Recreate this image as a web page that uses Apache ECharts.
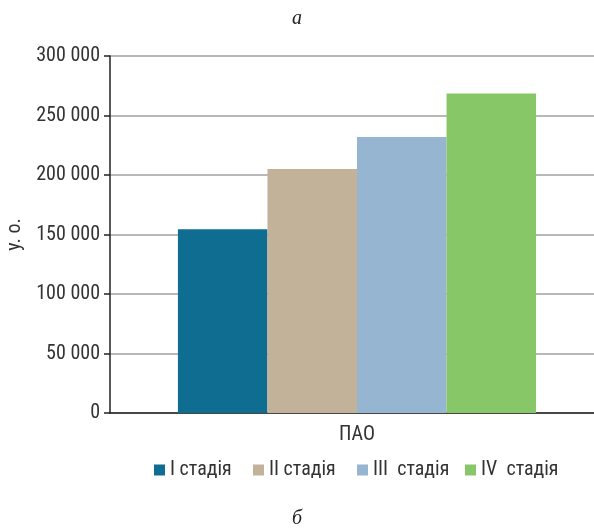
<!DOCTYPE html>
<html><head><meta charset="utf-8">
<script src="https://cdn.jsdelivr.net/npm/echarts@6/dist/echarts.min.js"></script>
<style>html,body{margin:0;padding:0;background:#fff}#c{width:594px;height:529px}</style>
</head><body><div id="c"></div>
<script>
const categories = ['ПАО'];
const seriesNames = ['I стадія', 'II стадія', 'III  стадія', 'IV  стадія'];
const seriesValues = [[154500], [205000], [232000], [268500]];
const colors = ['#0f6d92', '#c3b29a', '#95b5d0', '#88c767'];
const yTicks = [0, 50000, 100000, 150000, 200000, 250000, 300000];

const FONT = '"Liberation Sans Narrow", "Roboto Condensed", "Arial Narrow", sans-serif';
const legendLefts = [154, 253, 357, 465];
const chart = echarts.init(document.getElementById('c'));
chart.setOption({
  animation: false,
  color: colors,
  title: [
    {text: 'а', left: 'center', top: 4, textStyle: {fontFamily: 'Liberation Serif', fontStyle: 'italic', fontWeight: 'normal', fontSize: 20, color: '#222'}},
    {text: 'б', left: 'center', top: 504, textStyle: {fontFamily: 'Liberation Serif', fontStyle: 'italic', fontWeight: 'normal', fontSize: 20, color: '#222'}}
  ],
  legend: seriesNames.map((n, i) => ({
    top: 460, left: legendLefts[i], padding: 0,
    itemWidth: 11, itemHeight: 11,
    icon: 'rect',
    textStyle: {fontFamily: FONT, fontSize: 20, color: '#333'},
    data: [n]
  })),
  grid: {left: 110, width: 494, top: 56, bottom: 116, outerBoundsMode: 'none'},
  xAxis: {
    type: 'category', data: categories,
    axisLine: {lineStyle: {color: '#222', width: 1.5}},
    axisTick: {show: false},
    axisLabel: {fontFamily: FONT, fontSize: 20, color: '#333', margin: 12}
  },
  yAxis: {
    type: 'value', min: 0, max: 300000, interval: 50000,
    name: 'у. о.', nameLocation: 'middle', nameGap: 84, nameRotate: 90,
    nameTextStyle: {fontFamily: FONT, fontSize: 20, color: '#333'},
    axisLine: {show: true, lineStyle: {color: '#222', width: 1.5}},
    axisTick: {show: true, length: 6, lineStyle: {color: '#222', width: 1.5}},
    axisLabel: {fontFamily: FONT, fontSize: 20, color: '#333', margin: 10,
      formatter: v => String(v).replace(/\B(?=(\d{3})+(?!\d))/g, ' ')},
    splitLine: {lineStyle: {color: '#a0a0a0', width: 1.5}}
  },
  series: seriesNames.map((n, i) => ({
    name: n, type: 'bar', data: seriesValues[i],
    barGap: '0%', barCategoryGap: '27.5%'
  }))
});
</script></body></html>
